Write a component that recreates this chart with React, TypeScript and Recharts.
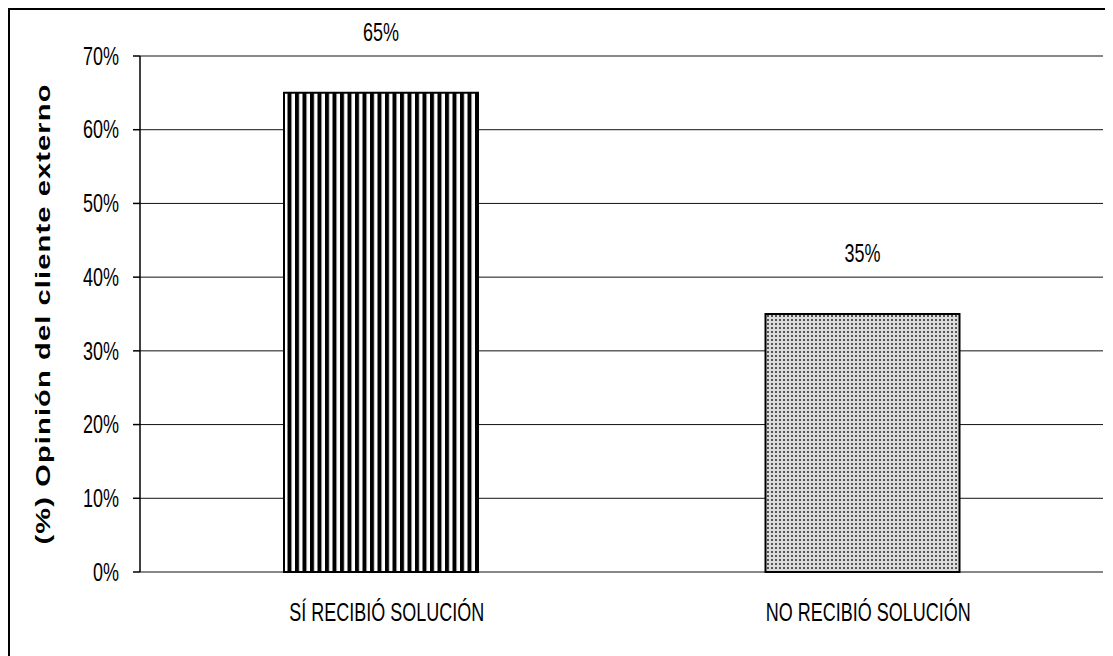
import React from 'react';
import {
  BarChart,
  Bar,
  XAxis,
  YAxis,
  CartesianGrid,
  LabelList,
  Label,
  ReferenceLine,
  Cell,
} from 'recharts';

const categories = ['SÍ RECIBIÓ SOLUCIÓN', 'NO RECIBIÓ SOLUCIÓN'];
const percentages = [65, 35];
const yTicks = [0, 10, 20, 30, 40, 50, 60, 70];
const fills = ['url(#stripes)', 'url(#dots)'];
const yTitle = '(%) Opinión del cliente externo';

const data = categories.map((name, i) => ({ name, value: percentages[i] }));

const FONT = '"Liberation Sans", Arial, sans-serif';
const STRETCH = 1.45;

function TallText({ x, y, anchor = 'middle', children }: any) {
  return (
    <text
      transform={`translate(${x},${y}) scale(1,${STRETCH})`}
      textAnchor={anchor}
      dominantBaseline="central"
      fontFamily={FONT}
      fontSize={18}
      fill="#000"
    >
      {children}
    </text>
  );
}

const YTick = (props: any) => (
  <TallText x={props.x} y={props.y} anchor="end">
    {`${props.payload.value}%`}
  </TallText>
);

const XTick = (props: any) => (
  <TallText x={props.x + 6} y={props.y}>
    {props.payload.value}
  </TallText>
);

const ValueLabel = (props: any) => {
  const { x, y, width, value } = props;
  return (
    <TallText x={x + width / 2} y={y - 61}>
      {`${value}%`}
    </TallText>
  );
};

const YTitle = (props: any) => {
  const vb = props.viewBox;
  const cy = vb.y + vb.height / 2;
  return (
    <text
      transform={`translate(33,${cy}) rotate(-90) scale(${STRETCH},1)`}
      textAnchor="middle"
      dominantBaseline="central"
      fontFamily={FONT}
      fontSize={20}
      fontWeight="bold"
      letterSpacing={0.8}
      fill="#000"
    >
      {yTitle}
    </text>
  );
};

export default function App() {
  return (
    <div
      style={{
        width: 1103,
        height: 646,
        borderTop: '2px solid #000',
        borderLeft: '2px solid #000',
        background: '#fff',
      }}
    >
      <BarChart
        width={1103}
        height={646}
        data={data}
        margin={{ top: 46, right: 10, bottom: 24, left: 0 }}
      >
        <defs>
          <pattern id="stripes" width={7.5} height={8} patternUnits="userSpaceOnUse">
            <rect x={0} y={0} width={7.5} height={8} fill="#fff" />
            <rect x={0} y={0} width={4} height={8} fill="#000" />
          </pattern>
          <pattern id="dots" width={4} height={4} patternUnits="userSpaceOnUse">
            <rect x={0} y={0} width={4} height={4} fill="#dcdcdc" />
            <rect x={1} y={1} width={2} height={2} fill="#555" />
          </pattern>
        </defs>
        <CartesianGrid vertical={false} stroke="#111" strokeWidth={1} />
        <XAxis
          xAxisId="edge"
          type="number"
          domain={[0, 2]}
          ticks={[0, 1, 2]}
          tick={false}
          tickSize={8}
          height={0}
          axisLine={{ stroke: '#222', strokeWidth: 2 }}
          tickLine={{ stroke: '#222', strokeWidth: 1.5 }}
        />
        <XAxis
          dataKey="name"
          axisLine={false}
          tickLine={false}
          tickSize={0}
          tickMargin={40}
          height={60}
          tick={<XTick />}
          interval={0}
        />
        <YAxis
          domain={[0, 70]}
          ticks={yTicks}
          width={130}
          tickSize={7}
          tickMargin={14}
          tick={<YTick />}
          axisLine={{ stroke: '#000', strokeWidth: 1.5 }}
          tickLine={{ stroke: '#000', strokeWidth: 1.5 }}
        >
          <Label content={<YTitle />} />
        </YAxis>
        <YAxis
          yAxisId="right"
          orientation="right"
          domain={[0, 70]}
          width={0}
          tick={false}
          tickLine={false}
          axisLine={{ stroke: '#888', strokeWidth: 2 }}
        />
        <ReferenceLine y={70} stroke="#888" strokeWidth={2} />
        <Bar
          dataKey="value"
          barSize={194}
          stroke="#000"
          strokeWidth={2}
          isAnimationActive={false}
        >
          {data.map((d, i) => (
            <Cell key={d.name} fill={fills[i]} />
          ))}
          <LabelList dataKey="value" content={<ValueLabel />} />
        </Bar>
      </BarChart>
    </div>
  );
}
